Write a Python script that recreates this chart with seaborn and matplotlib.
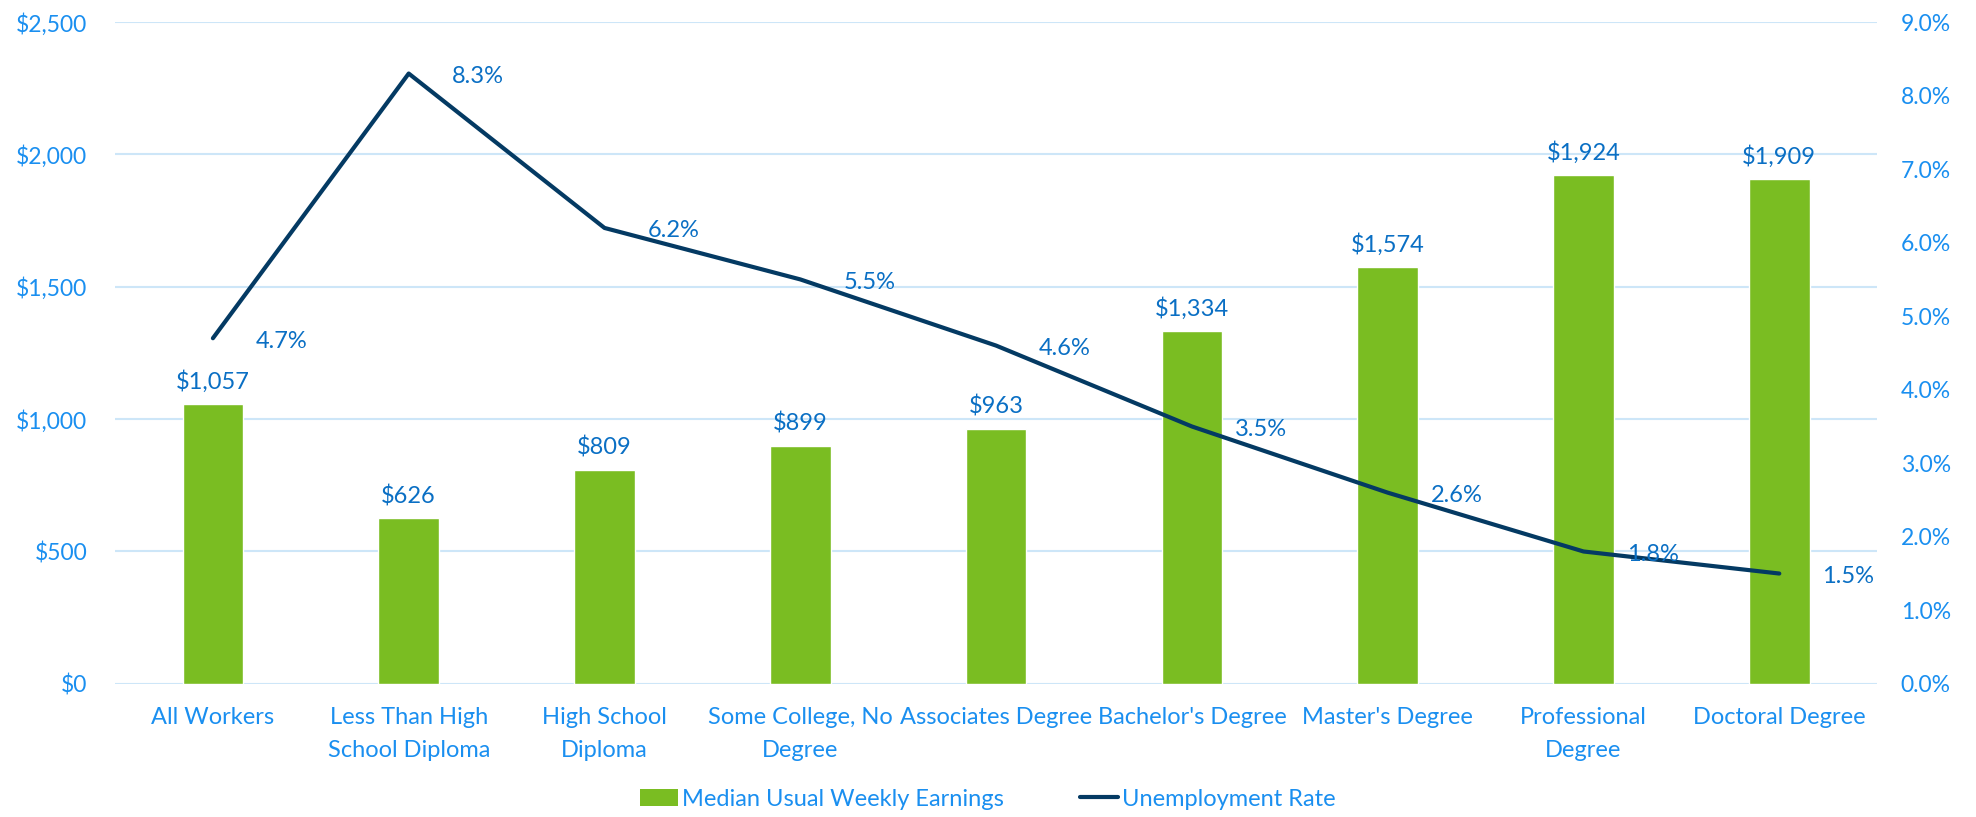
import numpy as np
import pandas as pd
import matplotlib
matplotlib.use("Agg")
import matplotlib.pyplot as plt
import seaborn as sns
from matplotlib.lines import Line2D
from matplotlib.patches import Patch

# Data

categories = [
    "All Workers",
    "Less Than High\nSchool Diploma",
    "High School\nDiploma",
    "Some College, No\nDegree",
    "Associates Degree",
    "Bachelor's Degree",
    "Master's Degree",
    "Professional\nDegree",
    "Doctoral Degree",
]
earnings = [1057, 626, 809, 899, 963, 1334, 1574, 1924, 1909]
unemployment = [4.7, 8.3, 6.2, 5.5, 4.6, 3.5, 2.6, 1.8, 1.5]

earn_ticks = [0, 500, 1000, 1500, 2000, 2500]
rate_ticks = [0, 1, 2, 3, 4, 5, 6, 7, 8, 9]

# Colors

bar_color = "#7ABD22"
line_color = "#043A63"
tick_color = "#1A8FF0"
label_color = "#0A6FC4"
grid_color = "#CDE6F8"

sns.set_theme(style="white")
plt.rcParams["font.family"] = ["Lato", "DejaVu Sans"]

df = pd.DataFrame({
    "pos": np.arange(len(categories)),
    "Category": categories,
    "Earnings": earnings,
    "Rate": unemployment,
})

fig = plt.figure(figsize=(19.76, 8.17), dpi=100)
ax = fig.add_axes([0.0582, 0.163, 0.8918, 0.810])

sns.barplot(
    data=df,
    x="pos",
    y="Earnings",
    color=bar_color,
    width=0.31,
    saturation=1,
    ax=ax,
    zorder=2
)

ax.set_ylim(0, 2500)
ax.set_yticks(earn_ticks)
ax.set_yticklabels([f"${v:,}" for v in earn_ticks])
ax.set_xlim(-0.5, len(categories) - 0.5)
ax.set_xticks(df["pos"])
ax.set_xticklabels(categories, linespacing=1.7)
ax.set_xlabel("")
ax.set_ylabel("")

for v in earn_ticks:
    ax.axhline(v, color=grid_color, lw=1.5, zorder=0)

for side in ["top", "right", "left", "bottom"]:
    ax.spines[side].set_visible(False)

ax.tick_params(axis="y", colors=tick_color, labelsize=16.5, length=0, pad=20)
ax.tick_params(axis="x", colors=tick_color, labelsize=17, length=0, pad=17)

for x, v in zip(df["pos"], earnings):
    ax.annotate(
        f"${v:,}",
        (x, v),
        xytext=(0, 8),
        textcoords="offset points",
        ha="center",
        va="bottom",
        color=label_color,
        fontsize=17
    )

# Unemployment line

ax2 = ax.twinx()

sns.lineplot(
    data=df,
    x="pos",
    y="Rate",
    color=line_color,
    lw=3,
    ax=ax2,
    zorder=3
)

ax2.set_ylim(0, 9)
ax2.set_yticks(rate_ticks)
ax2.set_yticklabels([f"{v:.1f}%" for v in rate_ticks])
ax2.set_ylabel("")
ax2.set_xlabel("")

for side in ["top", "right", "left", "bottom"]:
    ax2.spines[side].set_visible(False)

ax2.tick_params(axis="y", colors=tick_color, labelsize=16.5, length=0, pad=17)

for x, v in zip(df["pos"], unemployment):
    ax2.annotate(
        f"{v:.1f}%",
        (x, v),
        xytext=(31, -2),
        textcoords="offset points",
        ha="left",
        va="center",
        color=label_color,
        fontsize=17
    )

# Legend

handles = [
    Patch(facecolor=bar_color, edgecolor="none"),
    Line2D([0], [0], color=line_color, lw=3),
]

leg = fig.legend(
    handles,
    ["Median Usual Weekly Earnings", "Unemployment Rate"],
    loc="center",
    bbox_to_anchor=(0.5, 0.022),
    ncol=2,
    frameon=False,
    fontsize=17,
    handlelength=1.6,
    handletextpad=0.2,
    columnspacing=3.2
)

for text in leg.get_texts():
    text.set_color(tick_color)

plt.savefig("out.png", dpi=100)
